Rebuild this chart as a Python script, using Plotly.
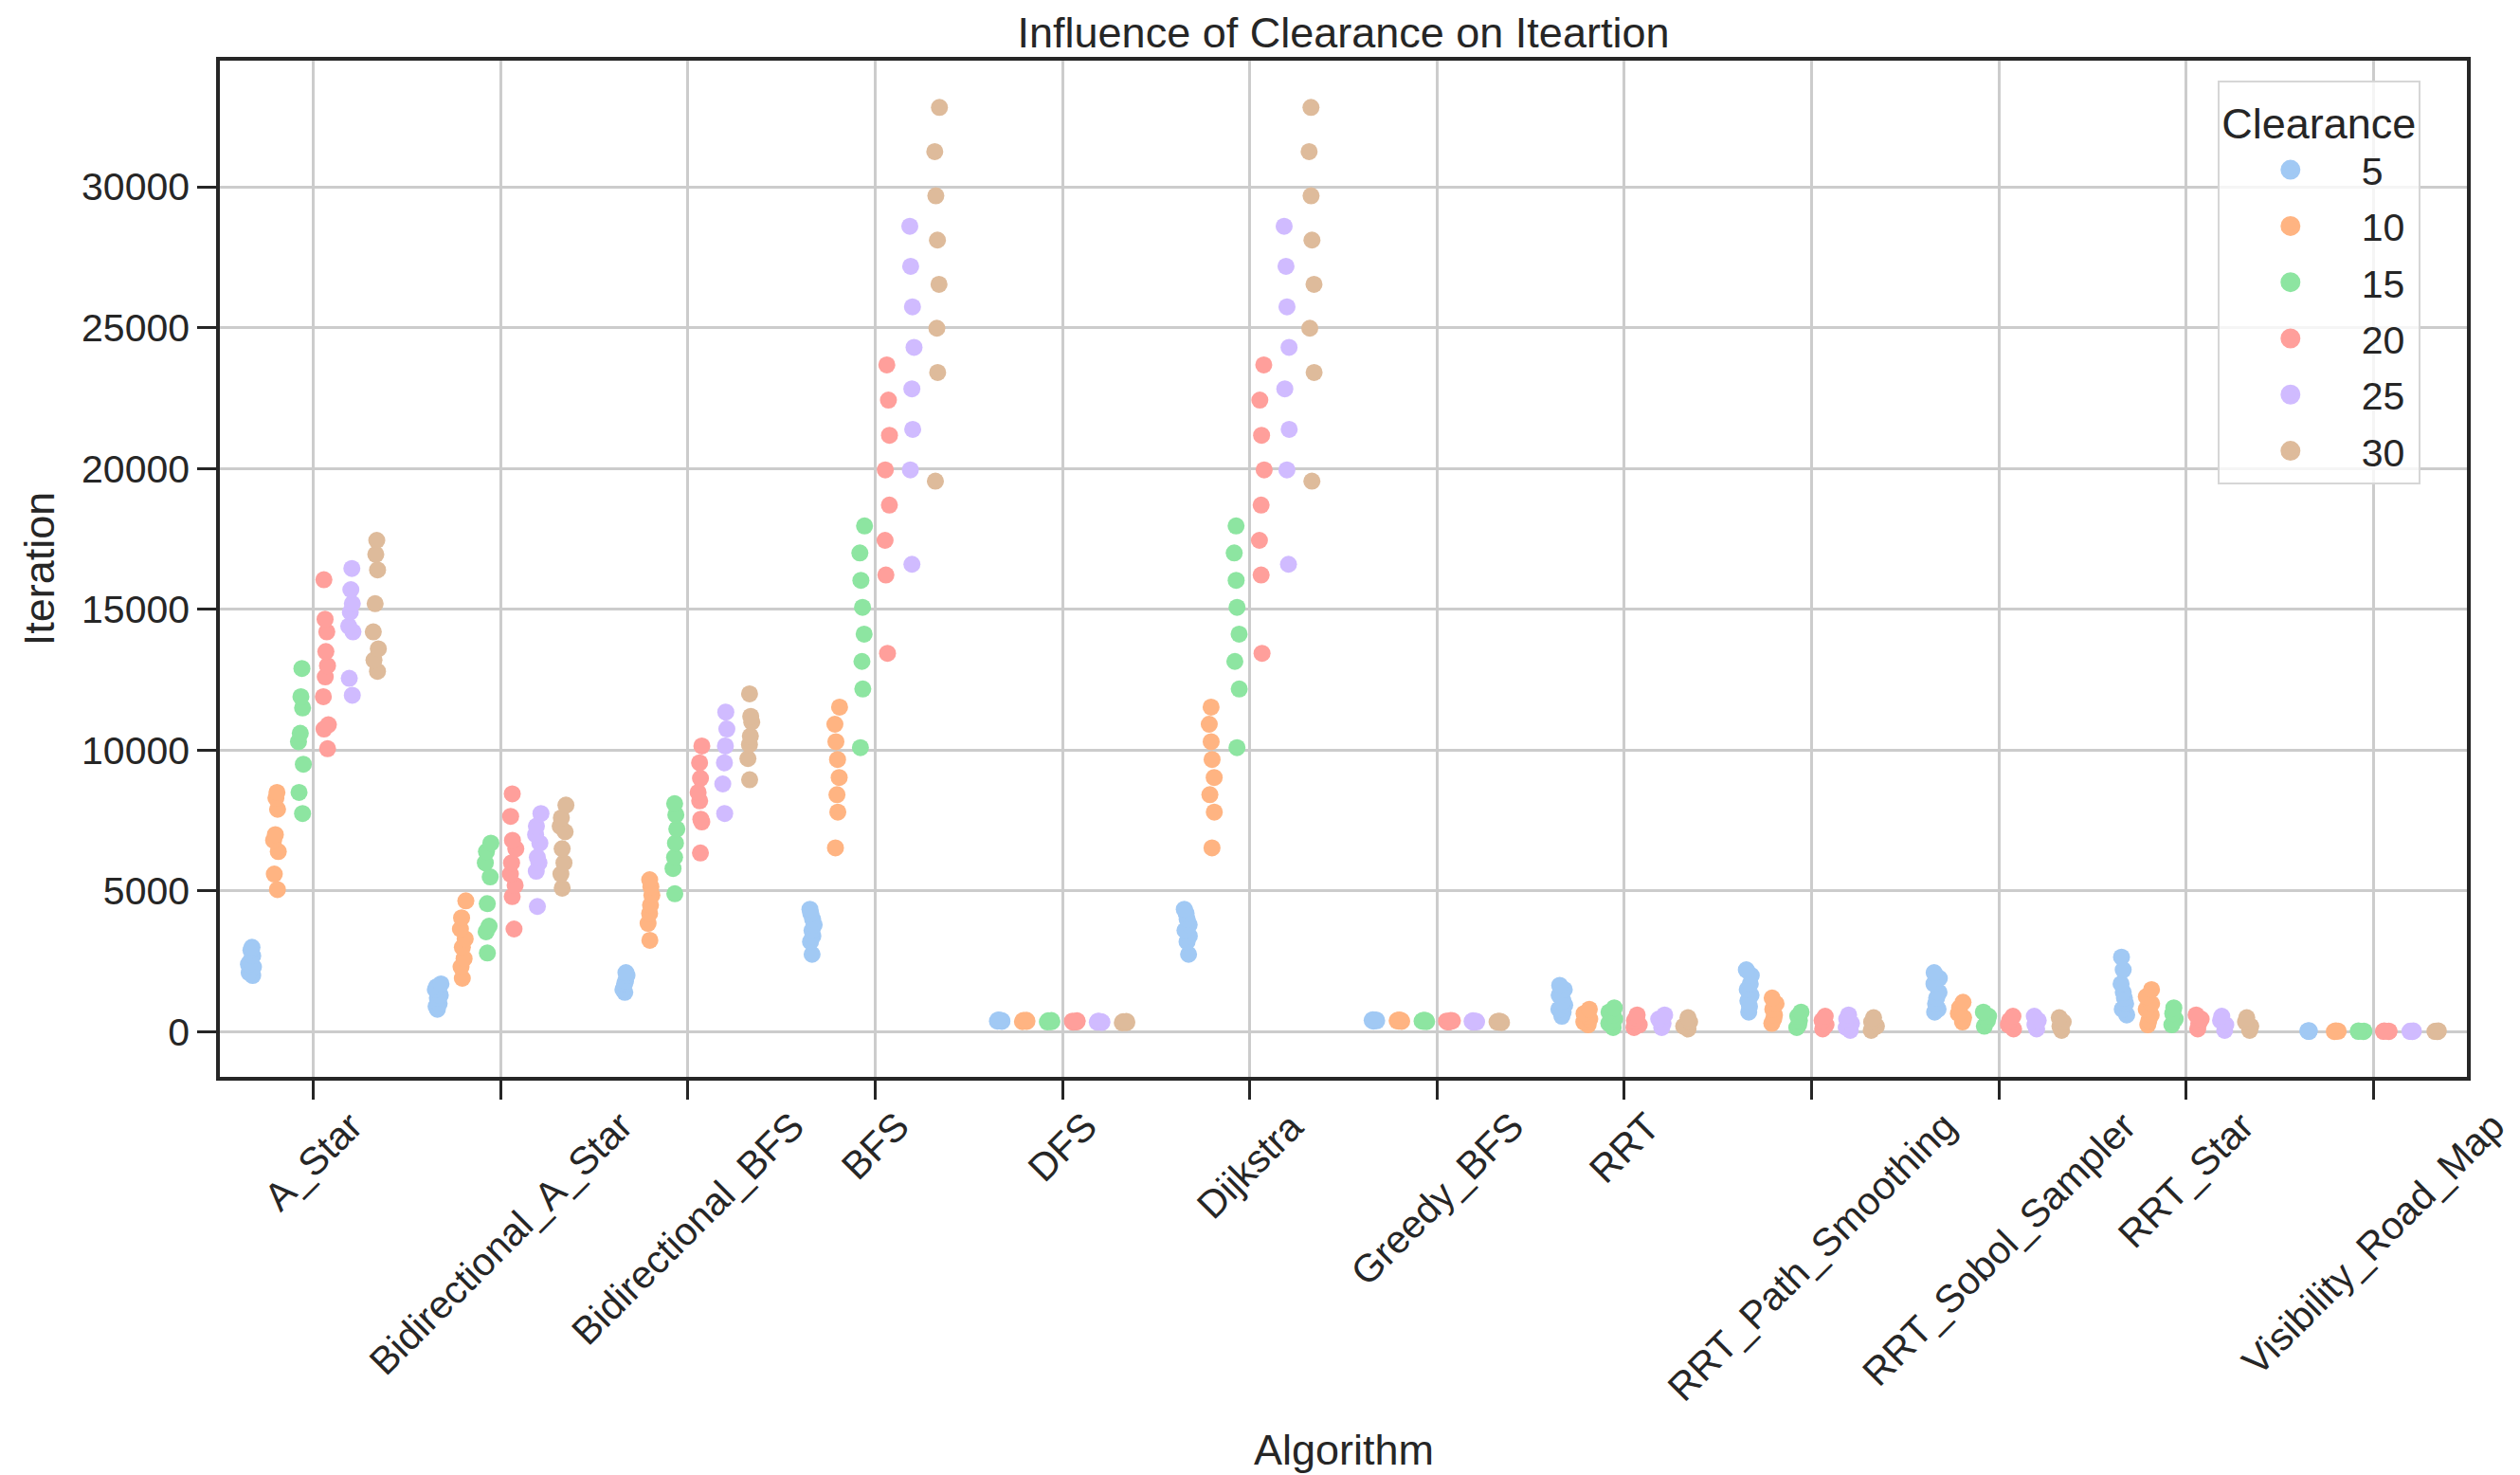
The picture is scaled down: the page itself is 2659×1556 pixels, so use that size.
import plotly.graph_objects as go

# ---------------- data ----------------
algorithms = ["A_Star", "Bidirectional_A_Star", "Bidirectional_BFS", "BFS", "DFS",
              "Dijkstra", "Greedy_BFS", "RRT", "RRT_Path_Smoothing",
              "RRT_Sobol_Sampler", "RRT_Star", "Visibility_Road_Map"]
clearances = [5, 10, 15, 20, 25, 30]
colors = ["#a1c9f4", "#ffb482", "#8de5a1", "#ff9f9b", "#d0bbff", "#debb9b"]

# each list: values for clearance 5, 10, 15, 20, 25, 30
a_star = [
    [3000, 2900, 2700, 2500, 2400, 2300, 2100, 2000],
    [8500, 8300, 7900, 7000, 6800, 6400, 5600, 5050],
    [12900, 11900, 11500, 10600, 10300, 9500, 8500, 7750],
    [16050, 14650, 14200, 13500, 13000, 12600, 11900, 10900, 10750, 10050],
    [16450, 15700, 15200, 14900, 14400, 14200, 12550, 11950],
    [17450, 16950, 16400, 15200, 14200, 13600, 13200, 12800],
]
bidirectional_a_star = [
    [1700, 1600, 1500, 1300, 1200, 1000, 900, 800],
    [4650, 4050, 3650, 3300, 3000, 2600, 2300, 1900],
    [6700, 6400, 6000, 5500, 4550, 3750, 3550, 2800],
    [8450, 7650, 6800, 6500, 6000, 5600, 5200, 4800, 3650],
    [7750, 7300, 7000, 6700, 6200, 6000, 5700, 4450],
    [8050, 7600, 7300, 7100, 6500, 6000, 5600, 5100],
]
bidirectional_bfs = [
    [2100, 2000, 1800, 1700, 1500, 1400],
    [5400, 5150, 4850, 4500, 4200, 3850, 3250],
    [8100, 7700, 7200, 6700, 6200, 5800, 4900],
    [10150, 9550, 9000, 8500, 8200, 7550, 7450, 6350],
    [11350, 10750, 10150, 9550, 8800, 7750],
    [12000, 11200, 11000, 10500, 10200, 9700, 8950],
]
bfs = [
    [4350, 4200, 4000, 3800, 3600, 3400, 3200, 2750],
    [11530, 10920, 10300, 9670, 9030, 8420, 7800, 6530],
    [17960, 17000, 16030, 15070, 14120, 13150, 12170, 10090],
    [23680, 22430, 21180, 19950, 18700, 17450, 16220, 13440],
    [28600, 27180, 25740, 24300, 22830, 21390, 19950, 16600],
    [32820, 31250, 29680, 28110, 26540, 24980, 23410, 19550],
]
dfs = [
    [420, 410, 400, 390, 380, 370],
    [410, 400, 390, 380, 370, 360],
    [400, 390, 380, 370, 360, 350],
    [390, 380, 370, 360, 350, 340],
    [380, 370, 360, 350, 340, 330],
    [370, 360, 350, 340, 330, 320],
]
dijkstra = [
    [4350, 4200, 4000, 3800, 3600, 3400, 3200, 2750],
    [11530, 10920, 10300, 9670, 9030, 8420, 7800, 6530],
    [17960, 17000, 16030, 15070, 14120, 13150, 12170, 10090],
    [23680, 22430, 21180, 19950, 18700, 17450, 16220, 13440],
    [28600, 27180, 25740, 24300, 22830, 21390, 19950, 16600],
    [32820, 31250, 29680, 28110, 26540, 24980, 23410, 19550],
]
greedy_bfs = [
    [430, 420, 410, 400, 390, 380],
    [420, 410, 400, 390, 380, 370],
    [410, 400, 390, 380, 370, 360],
    [400, 390, 380, 370, 360, 350],
    [390, 380, 370, 360, 350, 340],
    [380, 370, 360, 350, 340, 330],
]
rrt = [
    [1650, 1500, 1300, 1100, 950, 800, 700, 550],
    [800, 650, 550, 450, 350, 250],
    [850, 700, 600, 450, 300, 150],
    [600, 500, 400, 250, 150],
    [600, 450, 300, 150],
    [500, 350, 200, 100],
]
rrt_path_smoothing = [
    [2200, 2000, 1700, 1500, 1300, 1100, 900, 700],
    [1200, 1000, 800, 600, 450, 300],
    [700, 550, 400, 250, 150],
    [550, 400, 250, 100],
    [600, 450, 300, 150, 50],
    [500, 350, 200, 50],
]
rrt_sobol_sampler = [
    [2100, 1900, 1700, 1400, 1200, 1000, 800, 700],
    [1050, 850, 650, 500, 350],
    [700, 550, 400, 200],
    [550, 400, 250, 100],
    [550, 400, 250, 100],
    [500, 350, 200, 50],
]
rrt_star = [
    [2650, 2200, 1700, 1400, 1200, 1000, 800, 600],
    [1500, 1250, 1000, 800, 600, 400, 250],
    [850, 650, 450, 250],
    [600, 450, 300, 100],
    [550, 400, 250, 50],
    [500, 350, 200, 50],
]
visibility_road_map = [
    [40, 30, 20, 15],
    [35, 25, 20, 10],
    [35, 25, 15, 10],
    [30, 25, 15, 10],
    [30, 20, 15, 10],
    [30, 20, 15, 5],
]

algo_values = [a_star, bidirectional_a_star, bidirectional_bfs, bfs, dfs, dijkstra,
               greedy_bfs, rrt, rrt_path_smoothing, rrt_sobol_sampler, rrt_star,
               visibility_road_map]

title_text = "Influence of Clearance on Iteartion"
x_title = "Algorithm"
y_title = "Iteration"
legend_title = "Clearance"
y_ticks = [0, 5000, 10000, 15000, 20000, 25000, 30000]

# ---------------- figure ----------------
TXT = "#262626"
FONT = "Liberation Sans, Arial, sans-serif"
# page body adds an 8px offset; size the figure so it fits the window
W, H = 2651, 1548
ML, MR, MT, MB = 224, 56, 56, 420

fig = go.Figure()
for ci, (cl, col) in enumerate(zip(clearances, colors)):
    xs, ys = [], []
    for name, vals in zip(algorithms, algo_values):
        for v in vals[ci]:
            xs.append(name)
            ys.append(v)
    fig.add_trace(go.Box(
        x=xs, y=ys, name=str(cl), legendgroup=str(cl), showlegend=False,
        boxpoints="all", jitter=0.25, pointpos=0,
        fillcolor="rgba(0,0,0,0)", line=dict(color="rgba(0,0,0,0)", width=0),
        whiskerwidth=0,
        marker=dict(color=col, size=18, opacity=1, line=dict(width=0)),
        hoverinfo="x+y",
    ))
    fig.add_trace(go.Scatter(
        x=[None], y=[None], mode="markers", name=str(cl), legendgroup=str(cl),
        marker=dict(color=col, size=16, line=dict(color=col, width=6)),
        showlegend=True,
    ))

# rotated category labels centred under each tick (matplotlib style)
plot_h = H - MT - MB
label_top = 1162 - 8  # page px -> figure px
for name in algorithms:
    fig.add_annotation(
        x=name, xref="x", y=(MT + plot_h - label_top) / plot_h, yref="paper",
        text=name, showarrow=False,
        textangle=-45, xanchor="center", yanchor="top",
        font=dict(family=FONT, size=41, color=TXT),
    )

fig.add_annotation(
    x=0.5, xref="paper", y=(MT + plot_h - 1522) / plot_h, yref="paper",
    text=x_title, showarrow=False, xanchor="center", yanchor="middle",
    font=dict(family=FONT, size=45, color=TXT),
)

fig.update_layout(
    width=W, height=H,
    margin=dict(l=ML, r=MR, t=MT, b=MB, autoexpand=False),
    paper_bgcolor="white", plot_bgcolor="white",
    font=dict(family=FONT, size=41, color=TXT),
    title=dict(text=title_text, x=(ML + (W - ML - MR) / 2) / W, xanchor="center",
               yref="container", y=1 - 26 / H, yanchor="middle",
               font=dict(family=FONT, size=45, color=TXT)),
    boxmode="group", boxgap=0.2, boxgroupgap=0,
    showlegend=True,
    legend=dict(
        title=dict(text=legend_title, side="top center",
                   font=dict(family=FONT, size=45, color=TXT)),
        font=dict(family=FONT, size=41, color=TXT),
        x=0.889, xanchor="left", y=0.98, yanchor="top",
        bgcolor="rgba(255,255,255,0.8)", bordercolor="#d6d6d6", borderwidth=2,
        itemsizing="trace", itemwidth=140, tracegroupgap=3,
    ),
    xaxis=dict(
        type="category", categoryorder="array", categoryarray=algorithms,
        range=[-0.5, 11.5], showticklabels=False,
        showgrid=True, gridcolor="#cccccc", gridwidth=2.5,
        showline=True, linecolor=TXT, linewidth=3.5, mirror=True,
        ticks="outside", ticklen=20, tickwidth=2.5, tickcolor=TXT,
        zeroline=False, fixedrange=True,
    ),
    yaxis=dict(
        range=[-1600, 34480], tickvals=y_ticks, tickformat="d",
        showgrid=True, gridcolor="#cccccc", gridwidth=2.5,
        showline=True, linecolor=TXT, linewidth=3.5, mirror=True,
        ticks="outside", ticklen=20, tickwidth=2.5, tickcolor=TXT,
        tickfont=dict(family=FONT, size=41, color=TXT),
        zeroline=False,
        title=dict(text=y_title, standoff=15,
                   font=dict(family=FONT, size=45, color=TXT)),
    ),
)

fig.write_html("out.html")
